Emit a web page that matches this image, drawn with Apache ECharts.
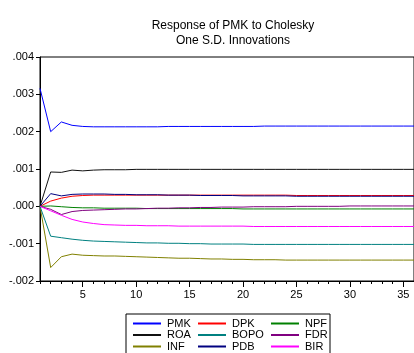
<!DOCTYPE html>
<html>
<head>
<meta charset="utf-8">
<script src="https://cdn.jsdelivr.net/npm/echarts@6/dist/echarts.min.js"></script>
<style>
  html, body { margin: 0; padding: 0; background: #fff; }
  #chart { width: 414px; height: 353px; }
</style>
</head>
<body>
<div id="chart"></div>
<script>
// periods 1..36
const periods = ['1','2','3','4','5','6','7','8','9','10','11','12','13','14','15','16','17','18',
  '19','20','21','22','23','24','25','26','27','28','29','30','31','32','33','34','35','36'];

const PMK = [0.00316,0.00200,0.00226,0.00217,0.00214,0.00213,0.00213,0.00213,0.00213,0.00213,0.00213,0.00213,
  0.00214,0.00214,0.00214,0.00214,0.00214,0.00214,0.00214,0.00214,0.00214,0.00215,0.00215,0.00215,
  0.00215,0.00215,0.00215,0.00215,0.00215,0.00215,0.00215,0.00215,0.00215,0.00215,0.00215,0.00215];
const ROA = [0,0.00092,0.00091,0.00097,0.00095,0.00097,0.00098,0.00098,0.00098,0.00099,0.00099,0.00099,
  0.00099,0.00099,0.00099,0.00099,0.00099,0.00099,0.00099,0.00099,0.00099,0.00099,0.00099,0.00099,
  0.00099,0.00099,0.00099,0.00099,0.00099,0.00099,0.00099,0.00099,0.00099,0.00099,0.00099,0.00099];
const DPK = [0,0.00014,0.00022,0.00027,0.00029,0.00030,0.00030,0.00030,0.00030,0.00030,0.00030,0.00030,
  0.00030,0.00030,0.00030,0.00030,0.00030,0.00030,0.00030,0.00030,0.00030,0.00030,0.00030,0.00030,
  0.00029,0.00029,0.00029,0.00029,0.00029,0.00029,0.00029,0.00029,0.00029,0.00029,0.00029,0.00029];
const PDB = [0,0.00034,0.00028,0.00032,0.00033,0.00033,0.00033,0.00032,0.00032,0.00031,0.00031,0.00031,
  0.00030,0.00030,0.00030,0.00029,0.00029,0.00029,0.00029,0.00028,0.00028,0.00028,0.00028,0.00028,
  0.00027,0.00027,0.00027,0.00027,0.00027,0.00027,0.00027,0.00027,0.00027,0.00027,0.00027,0.00027];
const NPF = [0,0.00001,-0.00001,-0.00003,-0.00004,-0.00004,-0.00005,-0.00005,-0.00005,-0.00005,-0.00006,-0.00006,
  -0.00006,-0.00006,-0.00006,-0.00006,-0.00006,-0.00006,-0.00006,-0.00007,-0.00007,-0.00007,-0.00007,-0.00007,
  -0.00007,-0.00007,-0.00007,-0.00007,-0.00007,-0.00007,-0.00007,-0.00007,-0.00007,-0.00007,-0.00007,-0.00007];
const FDR = [0,-0.00008,-0.00022,-0.00014,-0.00011,-0.00010,-0.00009,-0.00008,-0.00007,-0.00007,-0.00006,-0.00005,
  -0.00005,-0.00004,-0.00004,-0.00003,-0.00003,-0.00002,-0.00002,-0.00002,-0.00001,-0.00001,-0.00001,-0.00001,
  0,0,0,0,0,0.00001,0.00001,0.00001,0.00001,0.00001,0.00001,0.00001];
const BIR = [0,-0.00012,-0.00024,-0.00035,-0.00042,-0.00046,-0.00049,-0.00050,-0.00051,-0.00051,-0.00052,-0.00052,
  -0.00052,-0.00053,-0.00053,-0.00053,-0.00053,-0.00053,-0.00053,-0.00053,-0.00054,-0.00054,-0.00054,-0.00054,
  -0.00054,-0.00054,-0.00054,-0.00054,-0.00054,-0.00054,-0.00054,-0.00054,-0.00054,-0.00054,-0.00054,-0.00054];
const BOPO = [0,-0.00080,-0.00084,-0.00088,-0.00091,-0.00093,-0.00094,-0.00095,-0.00096,-0.00097,-0.00098,-0.00098,
  -0.00099,-0.00099,-0.00100,-0.00100,-0.00101,-0.00101,-0.00101,-0.00101,-0.00102,-0.00102,-0.00102,-0.00102,
  -0.00102,-0.00102,-0.00102,-0.00102,-0.00102,-0.00102,-0.00102,-0.00102,-0.00102,-0.00102,-0.00102,-0.00102];
const INF = [0,-0.00164,-0.00135,-0.00128,-0.00131,-0.00132,-0.00133,-0.00133,-0.00134,-0.00135,-0.00136,-0.00137,
  -0.00138,-0.00139,-0.00139,-0.00140,-0.00141,-0.00141,-0.00142,-0.00142,-0.00143,-0.00143,-0.00143,-0.00144,
  -0.00144,-0.00144,-0.00144,-0.00144,-0.00144,-0.00144,-0.00144,-0.00144,-0.00144,-0.00144,-0.00144,-0.00144];

const font = 'Liberation Sans, Arial, sans-serif';

const seriesDefs = [
  { name: 'PMK', data: PMK, color: '#0000ff' },
  { name: 'ROA', data: ROA, color: '#111111' },
  { name: 'INF', data: INF, color: '#808000' },
  { name: 'DPK', data: DPK, color: '#ff0000' },
  { name: 'BOPO', data: BOPO, color: '#008080' },
  { name: 'PDB', data: PDB, color: '#000080' },
  { name: 'NPF', data: NPF, color: '#008000' },
  { name: 'FDR', data: FDR, color: '#800080' },
  { name: 'BIR', data: BIR, color: '#ff00ff' }
];

const legendBase = {
  orient: 'vertical',
  top: 318,
  height: 80,
  padding: 0,
  itemWidth: 28,
  itemHeight: 11,
  itemGap: 0.5,
  selectedMode: false,
  itemStyle: { opacity: 0 },
  textStyle: { fontFamily: font, fontSize: 11, lineHeight: 11, color: '#000', padding: [0, 0, 0, 1] }
};

const myChart = echarts.init(document.getElementById('chart'));

myChart.setOption({
  animation: false,
  title: {
    text: 'Response of PMK to Cholesky\nOne S.D. Innovations',
    left: 228,
    textAlign: 'center',
    top: 13,
    textStyle: { fontFamily: font, fontSize: 12, fontWeight: 'normal', color: '#000', lineHeight: 15 }
  },
  grid: {
    left: 40,
    top: 57,
    width: 378,
    height: 224,
    show: true,
    borderColor: '#000',
    borderWidth: 1,
    backgroundColor: '#fff'
  },
  legend: [
    Object.assign({}, legendBase, { left: 132, data: ['PMK', 'ROA', 'INF'] }),
    Object.assign({}, legendBase, { left: 197, data: ['DPK', 'BOPO', 'PDB'] }),
    Object.assign({}, legendBase, { left: 270, data: ['NPF', 'FDR', 'BIR'] })
  ],
  graphic: [{
    type: 'rect',
    shape: { x: 126, y: 314, width: 204, height: 50 },
    style: { fill: 'none', stroke: '#000', lineWidth: 1 },
    z: -1
  }],
  xAxis: [
    {
      type: 'category',
      data: periods,
      boundaryGap: false,
      axisLine: { onZero: false, lineStyle: { color: '#000' } },
      axisTick: { interval: 0, length: 3, lineStyle: { color: '#000' } },
      axisLabel: {
        interval: (i) => (i + 1) % 5 === 0,
        fontFamily: font, fontSize: 11, color: '#000', margin: 8
      },
      splitLine: { show: false }
    },
    {
      type: 'category',
      data: periods,
      boundaryGap: false,
      position: 'bottom',
      axisLine: { show: false, onZero: false },
      axisTick: { interval: (i) => (i + 1) % 5 === 0, length: 6, lineStyle: { color: '#000' } },
      axisLabel: { show: false },
      splitLine: { show: false }
    }
  ],
  yAxis: {
    type: 'value',
    min: -0.002,
    max: 0.004,
    interval: 0.001,
    axisLine: { show: true, lineStyle: { color: '#000' } },
    axisTick: { show: true, length: 4, lineStyle: { color: '#000' } },
    splitLine: { show: false },
    axisLabel: {
      fontFamily: font, fontSize: 11, color: '#000', margin: 6,
      formatter: (v) => {
        const s = Math.abs(v).toFixed(3).replace(/^0/, '');
        return (v < -1e-9 ? '-' : '') + s;
      }
    }
  },
  series: seriesDefs.map((d) => ({
    name: d.name,
    type: 'line',
    data: d.data,
    symbol: 'none',
    color: d.color,
    lineStyle: { color: d.color, width: 1 }
  }))
});
</script>
</body>
</html>
